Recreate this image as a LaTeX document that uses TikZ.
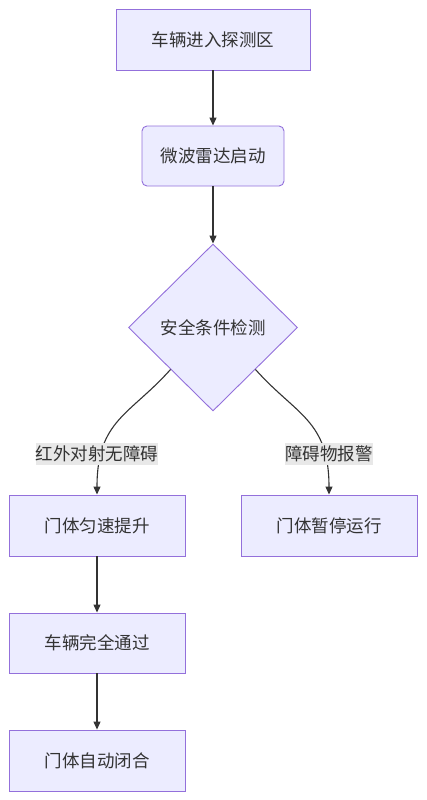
\documentclass[tikz,border=0pt]{standalone}
\usepackage{fontspec}
\setmainfont{Noto Sans CJK SC}
\usepackage{xcolor}
\usetikzlibrary{shapes.geometric, arrows.meta, positioning}

\definecolor{nodefill}{HTML}{ECECFF}
\definecolor{nodeline}{HTML}{9370DB}
\definecolor{edgeline}{HTML}{333333}
\definecolor{lblfill}{HTML}{E8E8E8}

\tikzset{
    stepbox/.style={rectangle,draw=nodeline,fill=nodefill,line width=0.9pt,minimum width=176pt,minimum height=61pt,inner sep=0pt,text=edgeline},
    decision/.style={diamond,draw=nodeline,fill=nodefill,line width=0.9pt,shape aspect=1,minimum width=169pt,minimum height=167pt,inner sep=0pt,text=edgeline},
    edge/.style={-{Triangle[length=8pt,width=7pt]},draw=edgeline,line width=1.1pt},
    lbl/.style={fill=lblfill,inner xsep=0pt,inner ysep=3pt,text=edgeline}
}

\begin{document}
\begin{tikzpicture}[x=1pt,y=-1pt,font=\fontsize{17.5}{20}\selectfont]
    \useasboundingbox (0,0) rectangle (426,800);

    % Nodi
    \node[stepbox,minimum width=194pt] (enter) at (213,39.5) {车辆进入探测区};
    \node[stepbox,rounded corners=5pt,minimum width=142pt,minimum height=60pt] (radar) at (213,156) {微波雷达启动};
    \node[decision] (check) at (213,327.5) {安全条件检测};
    \node[stepbox] (lift) at (97,525.5) {门体匀速提升};
    \node[stepbox] (pause) at (329,525.5) {门体暂停运行};
    \node[stepbox,minimum height=60pt] (pass) at (97,643) {车辆完全通过};
    \node[stepbox] (close) at (97,760.5) {门体自动闭合};

    % Connessioni
    \draw[edge] (enter) -- (radar);
    \draw[edge] (radar) -- (check);
    \draw[edge] (check.south west) .. controls (130,415) and (97,420) .. (lift.north);
    \draw[edge] (check.south east) .. controls (296,415) and (329,420) .. (pause.north);
    \draw[edge] (lift) -- (pass);
    \draw[edge] (pass) -- (close);

    % Etichette
    \node[lbl] (lblok) at (97,454) {红外对射无障碍};
    \node[lbl] (lblstop) at (329,454) {障碍物报警};
\end{tikzpicture}
\end{document}
